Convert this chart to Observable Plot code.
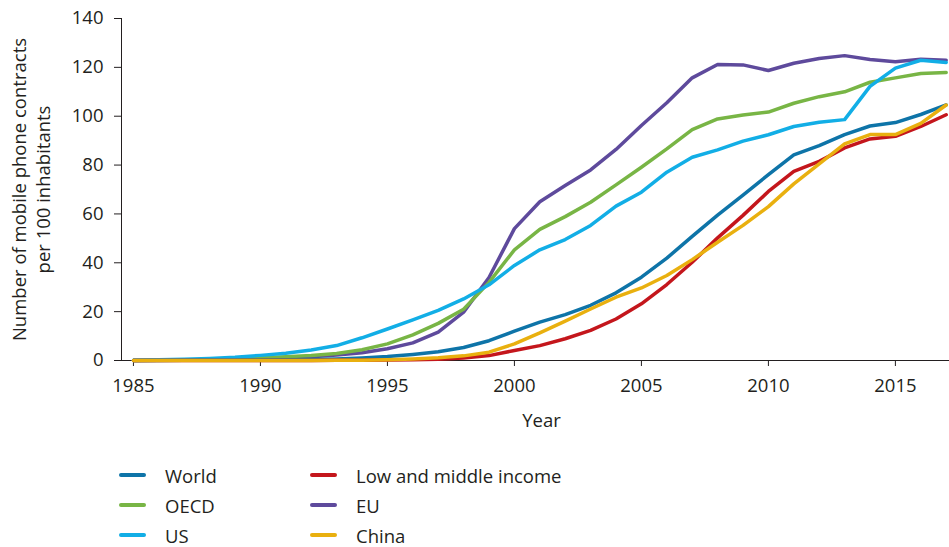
<!DOCTYPE html>
<html>
<head>
<meta charset="utf-8">
<script src="https://cdn.jsdelivr.net/npm/d3@7"></script>
<script src="https://cdn.jsdelivr.net/npm/@observablehq/plot@0.6"></script>
<style>
  body { margin: 0; background: #fff; font-family: "Open Sans", sans-serif; color: #231f20; }
  #legend {
    display: grid;
    grid-template-columns: 191px auto;
    grid-template-rows: repeat(3, 30px);
    grid-auto-flow: column;
    margin-left: 119px;
    margin-top: 20px;
    font-size: 18.5px;
  }
  .item { display: flex; align-items: center; }
  .sw { width: 27px; height: 4px; border-radius: 2px; margin-right: 19px; }
</style>
</head>
<body>
<div id="chart"></div>
<div id="legend"></div>
<script>
const years = d3.range(1985, 2018);
const xTicks = [1985, 1990, 1995, 2000, 2005, 2010, 2015];
const yTicks = [0, 20, 40, 60, 80, 100, 120, 140];

const seriesNames = ["World", "OECD", "US", "Low and middle income", "EU", "China"];
const seriesColors = ["#0e74a8", "#78b545", "#12aee6", "#c4161c", "#5e4a9c", "#e9b00f"];
const drawOrder = ["EU", "OECD", "US", "World", "Low and middle income", "China"];

const world = [0, 0, 0.1, 0.1, 0.1, 0.2, 0.3, 0.4, 0.6, 1.0, 1.6, 2.5, 3.6, 5.3, 8.1, 12.0, 15.7, 18.8, 22.6, 27.7, 34.1, 41.9, 50.8, 59.5, 67.7, 76.1, 84.2, 88.0, 92.5, 96.0, 97.4, 100.7, 104.6];
const oecd = [0, 0.1, 0.2, 0.4, 0.7, 1.1, 1.5, 2.0, 2.9, 4.4, 6.8, 10.5, 15.2, 21.0, 32.0, 45.3, 53.7, 58.9, 64.8, 71.9, 79.1, 86.6, 94.5, 98.9, 100.5, 101.7, 105.3, 108.0, 110.0, 113.9, 115.7, 117.5, 117.9];
const us = [0.1, 0.3, 0.5, 0.8, 1.3, 2.1, 3.0, 4.3, 6.1, 9.3, 12.9, 16.6, 20.5, 25.2, 31.0, 38.9, 45.3, 49.5, 55.3, 63.2, 68.9, 77.1, 83.2, 86.2, 89.8, 92.4, 95.8, 97.5, 98.6, 112.2, 119.7, 122.9, 122.0];
const lowMiddle = [0, 0, 0, 0, 0, 0, 0, 0, 0.1, 0.1, 0.2, 0.3, 0.5, 1.0, 2.0, 4.1, 6.1, 8.9, 12.3, 17.0, 23.2, 31.1, 40.2, 50.2, 59.4, 69.2, 77.4, 81.5, 87.0, 90.7, 91.8, 95.8, 100.6];
const eu = [0, 0.1, 0.2, 0.3, 0.5, 0.8, 1.1, 1.5, 2.2, 3.2, 4.8, 7.2, 11.6, 19.8, 34.0, 54.0, 65.0, 71.6, 78.0, 86.4, 96.2, 105.5, 115.7, 121.2, 121.0, 118.7, 121.7, 123.6, 124.8, 123.2, 122.3, 123.3, 122.9];
const china = [0, 0, 0, 0, 0, 0, 0, 0, 0.1, 0.1, 0.3, 0.6, 1.1, 1.9, 3.4, 6.8, 11.3, 16.1, 21.1, 25.9, 29.7, 34.8, 41.3, 48.4, 55.3, 63.0, 72.3, 80.5, 88.7, 92.5, 92.5, 97.1, 104.6];

const valuesByName = {
  "World": world, "OECD": oecd, "US": us,
  "Low and middle income": lowMiddle, "EU": eu, "China": china
};

const data = drawOrder.flatMap(name =>
  valuesByName[name].map((v, i) => ({year: years[i], value: v, series: name}))
);

const chart = Plot.plot({
  width: 949,
  height: 440,
  marginLeft: 121,
  marginRight: 0,
  marginTop: 18,
  marginBottom: 80,
  style: {fontFamily: "'Open Sans', sans-serif", fontSize: "18.5px", color: "#231f20", background: "#fff"},
  x: {domain: [1984.53, 2017.13]},
  y: {domain: [0, 140]},
  color: {domain: seriesNames, range: seriesColors},
  marks: [
    Plot.axisY({ticks: yTicks, tickSize: 7, tickPadding: 11, label: null, stroke: "#231f20"}),
    Plot.axisX({ticks: xTicks, tickSize: 6, tickPadding: 12, tickFormat: d => String(d), label: null, stroke: "#231f20"}),
    Plot.frame({anchor: "left", stroke: "#231f20"}),
    Plot.ruleY([0], {stroke: "#231f20"}),
    Plot.lineY(data, {x: "year", y: "value", z: "series", stroke: "series", strokeWidth: 3.5, strokeLinejoin: "round"}),
    Plot.text(["Number of mobile phone contracts\nper 100 inhabitants"], {text: d => d, frameAnchor: "left", textAnchor: "middle", lineAnchor: "middle", rotate: -90, dx: -91, lineHeight: 1.3, fill: "#231f20"}),
    Plot.text(["Year"], {text: d => d, frameAnchor: "bottom", textAnchor: "middle", lineAnchor: "middle", dy: 61, dx: 6, fill: "#231f20"})
  ]
});
document.getElementById("chart").appendChild(chart);

const legend = d3.select("#legend");
seriesNames.forEach((name, i) => {
  const item = legend.append("div").attr("class", "item");
  item.append("div").attr("class", "sw").style("background", seriesColors[i]);
  item.append("span").text(name);
});
</script>
</body>
</html>
